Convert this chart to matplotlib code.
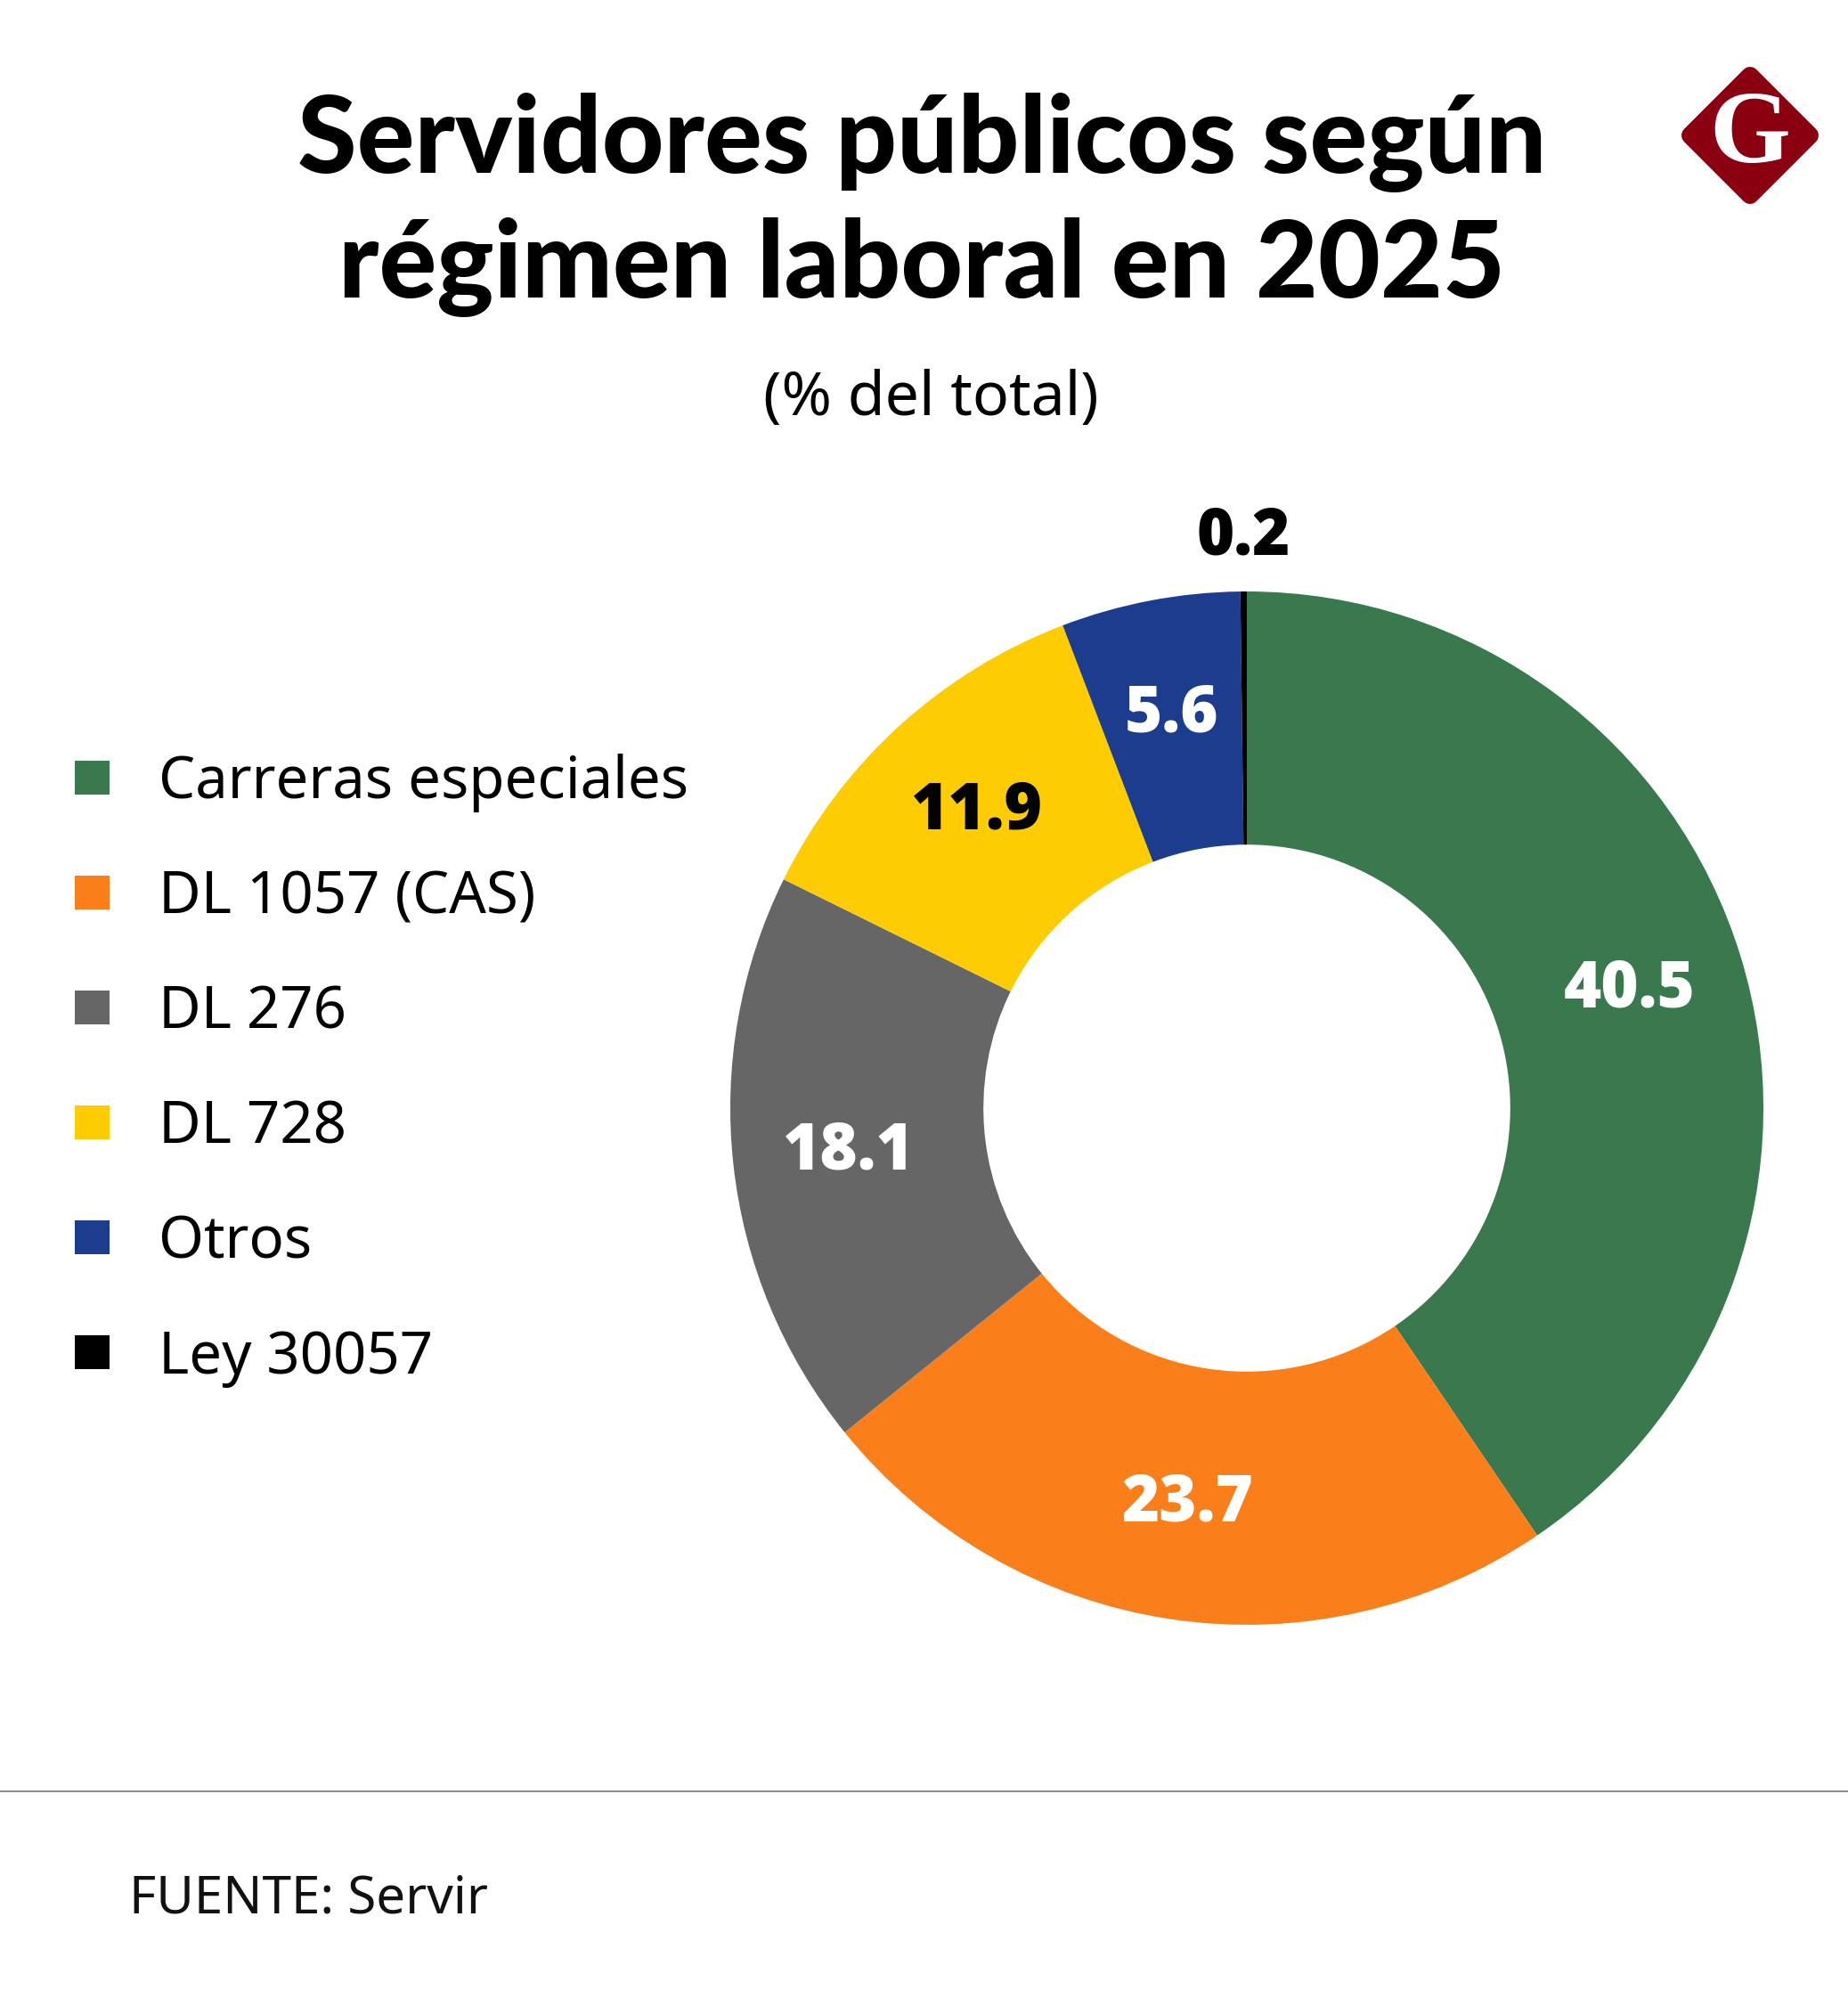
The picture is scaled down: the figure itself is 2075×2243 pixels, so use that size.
import numpy as np
import matplotlib
matplotlib.use('Agg')
import matplotlib.pyplot as plt
from matplotlib.patches import Rectangle, Polygon

# data
categories = ['Carreras especiales', 'DL 1057 (CAS)', 'DL 276', 'DL 728', 'Otros', 'Ley 30057']
values = [40.5, 23.7, 18.1, 11.9, 5.6, 0.2]
colors = ['#3a784e', '#fa7f1b', '#666666', '#fecc02', '#1c3d8d', '#000000']
label_colors = ['white', 'white', 'white', 'black', 'white', 'black']

title_lines = ['Servidores públicos según', 'régimen laboral en 2025']
subtitle = '(% del total)'
source = 'FUENTE: Servir'

W, H = 2075, 2243
fig = plt.figure(figsize=(W / 100, H / 100), dpi=100)
fig.patch.set_facecolor('white')

# overlay axes in pixel coords for texts, legend, logo
bg = fig.add_axes([0, 0, 1, 1])
bg.set_xlim(0, W)
bg.set_ylim(H, 0)
bg.axis('off')

# donut
cx, cy, R = 1400, 1244, 580
ax = fig.add_axes([(cx - R) / W, 1 - (cy + R) / H, 2 * R / W, 2 * R / H])
wedges, _ = ax.pie(values, colors=colors, startangle=90, counterclock=False,
                   radius=1, wedgeprops=dict(width=0.49, linewidth=0))
ax.set_xlim(-1, 1)
ax.set_ylim(-1, 1)
ax.set_aspect('equal')
ax.axis('off')

for w, v, tc in zip(wedges, values, label_colors):
    ang = np.deg2rad((w.theta1 + w.theta2) / 2)
    r = 0.775 if v >= 1 else 1.105
    ax.text(r * np.cos(ang), r * np.sin(ang), f'{v:.1f}', ha='center', va='center',
            fontsize=52, fontweight=800, color=tc, family=['Open Sans', 'DejaVu Sans'])

# title
for txt, yb in zip(title_lines, [194, 334]):
    bg.text(1035, yb, txt, ha='center', va='baseline', fontsize=87,
            fontweight=900, family=['Lato', 'DejaVu Sans'], color='black')
bg.text(1045, 466, subtitle, ha='center', va='baseline', fontsize=49,
        family=['Noto Sans', 'DejaVu Sans'], color='black')

# legend
row0, step = 873, 129
for i, (name, c) in enumerate(zip(categories, colors)):
    yc = row0 + i * step
    bg.add_patch(Rectangle((84, yc - 19), 39, 38, facecolor=c, edgecolor='none'))
    bg.text(178, yc + 23.5, name, ha='left', va='baseline', fontsize=47,
            family=['Noto Sans', 'DejaVu Sans'], color='black')

# logo
lx, ly, d = 1965, 152, 67
bg.add_patch(Polygon([(lx, ly - d), (lx + d, ly), (lx, ly + d), (lx - d, ly)], closed=True,
                     facecolor='#8b0011', edgecolor='#8b0011', linewidth=14.4,
                     joinstyle='round'))
bg.text(lx, ly + 2, 'G', ha='center', va='center', fontsize=84, fontweight='bold',
        family=['Liberation Serif', 'DejaVu Serif'], color='white')

# separator and source
bg.plot([0, W], [2011, 2011], color='#8c8c8c', linewidth=1.5)
bg.text(145, 2147, source, ha='left', va='baseline', fontsize=42,
        family=['Noto Sans', 'DejaVu Sans'], color='#111111')

fig.savefig('out.png', dpi=100, facecolor='white')
